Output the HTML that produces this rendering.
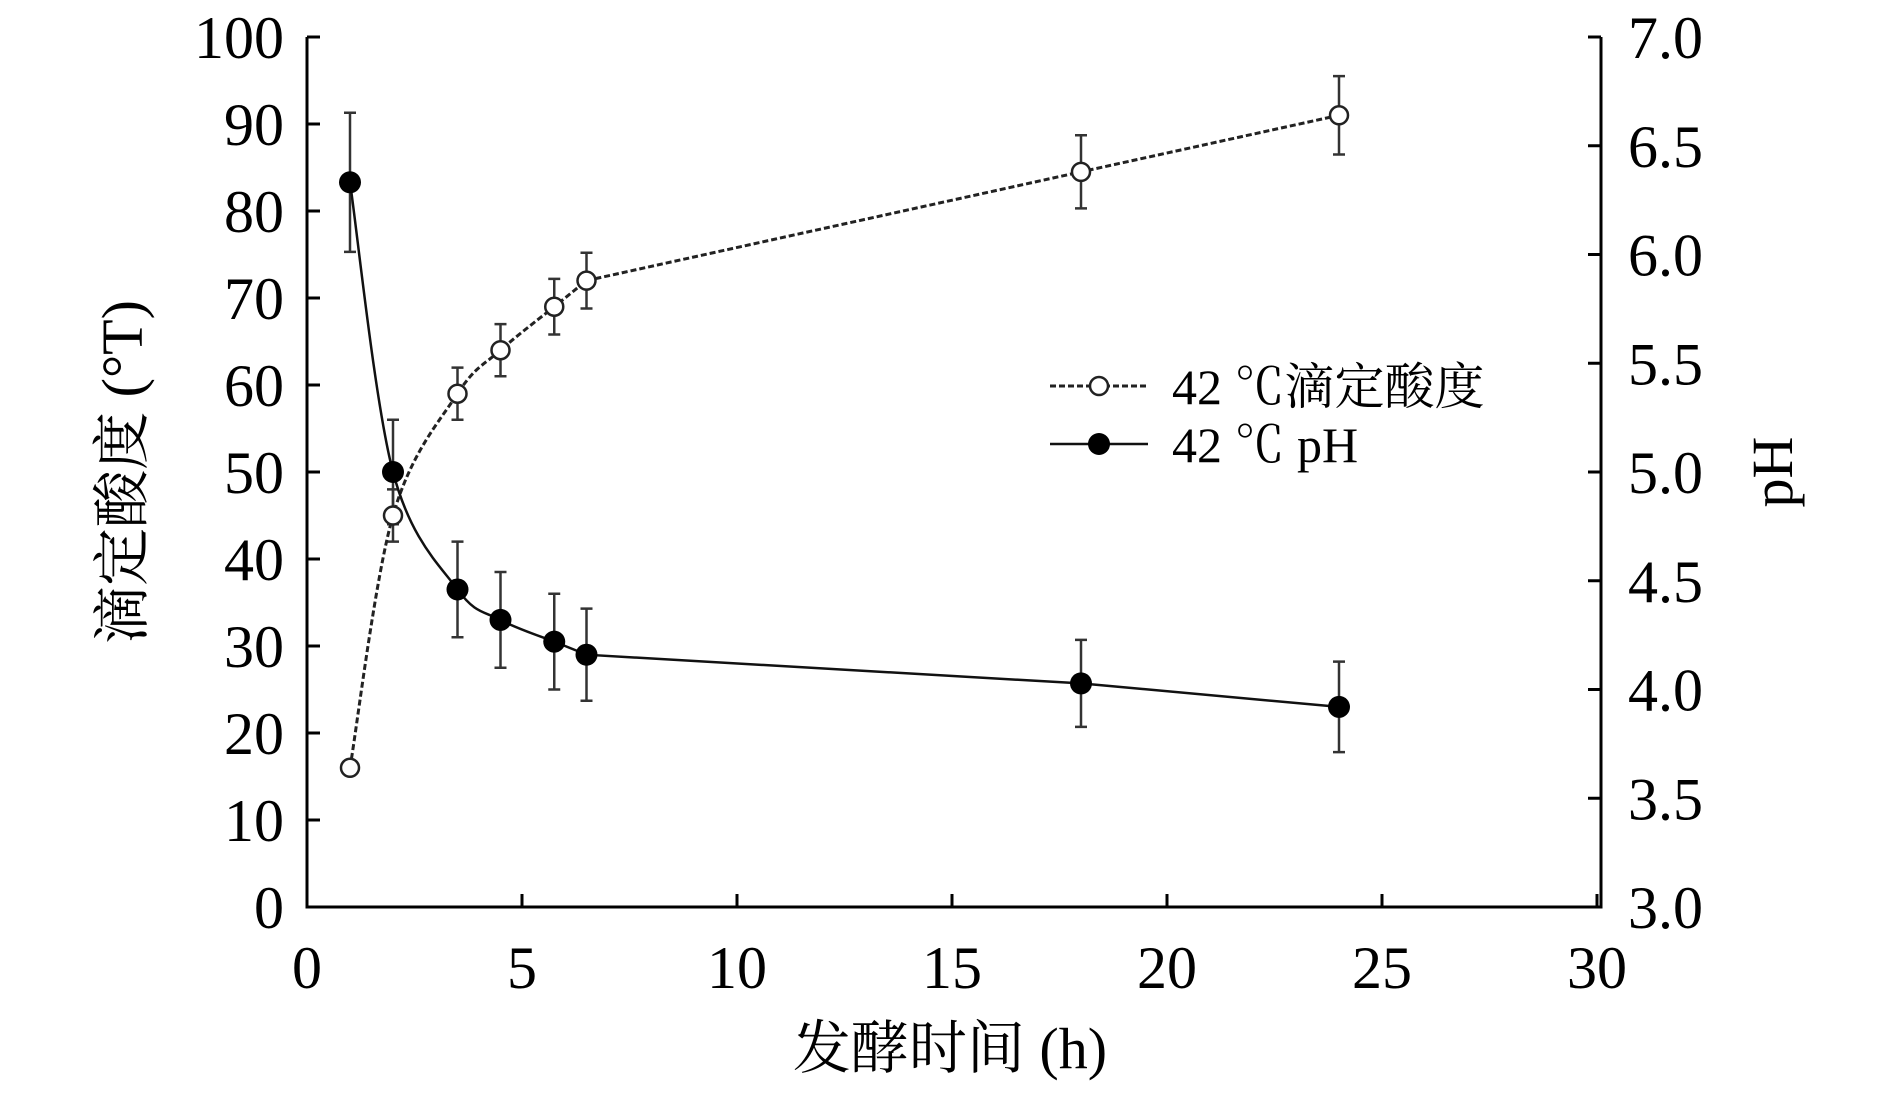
<!DOCTYPE html>
<html><head><meta charset="utf-8"><style>
body{margin:0;background:#fff}
svg{display:block}
text{font-family:"Liberation Serif","Times New Roman","Noto Serif CJK SC",serif;fill:#000}
</style></head><body>
<svg id="s" width="1890" height="1093" xmlns="http://www.w3.org/2000/svg" font-family="'Liberation Serif','Noto Serif CJK SC',serif"></svg>
<script>
const s=document.getElementById('s');
const X=v=>307+v*43.0, Y=v=>907-v*8.7;
let h='';
h+=`<path d="M307,37 V907 H1601 V37" fill="none" stroke="#000" stroke-width="3"/>`;
for(let i=0;i<=10;i++){let y=Y(i*10);h+=`<line x1="307" x2="320" y1="${y}" y2="${y}" stroke="#000" stroke-width="3"/><text x="284" y="${y+21}" font-size="60" text-anchor="end">${i*10}</text>`;}
for(let i=0;i<=8;i++){let y=Y(i*12.5);h+=`<line x1="1588" x2="1601" y1="${y}" y2="${y}" stroke="#000" stroke-width="3"/><text x="1628" y="${y+21}" font-size="60">${(3+i*0.5).toFixed(1)}</text>`;}
for(let i=0;i<=6;i++){let x=X(i*5);h+=`<line x1="${x}" x2="${x}" y1="894" y2="907" stroke="#000" stroke-width="3"/><text x="${x}" y="988" font-size="60" text-anchor="middle">${i*5}</text>`;}
h+=`<text x="950" y="1068" font-size="58" text-anchor="middle">发酵时间 (h)</text>`;
h+=`<text transform="translate(142,472) rotate(-90)" font-size="58" text-anchor="middle">滴定酸度 (°T)</text>`;
h+=`<text transform="translate(1792,472) rotate(-90)" font-size="58" text-anchor="middle">pH</text>`;
const ta=[[1,16,0],[2,45,3],[3.5,59,3],[4.5,64,3],[5.75,69,3.2],[6.5,72,3.2],[18,84.5,4.2],[24,91,4.5]];
const ph=[[1,83.3,8],[2,50,6],[3.5,36.5,5.5],[4.5,33,5.5],[5.75,30.5,5.5],[6.5,29,5.3],[18,25.7,5],[24,23,5.2]];
function eb(d){let o='';d.forEach(p=>{if(!p[2])return;let x=X(p[0]),a=Y(p[1]+p[2]),b=Y(p[1]-p[2]);o+=`<path d="M${x},${a}V${b}M${x-6},${a}H${x+6}M${x-6},${b}H${x+6}" stroke="#333" stroke-width="2.5" fill="none"/>`;});return o;}
function cr(d){let P=d.map(p=>[X(p[0]),Y(p[1])]);let o=`M${P[0][0]},${P[0][1]}`;for(let i=0;i<P.length-1;i++){let p0=P[i-1]||P[i],p1=P[i],p2=P[i+1],p3=P[i+2]||p2;if(i>=4){o+=`L${p2[0]},${p2[1]}`;continue;}let t=1/6;if(i==3)p3=p2;o+=`C${p1[0]+(p2[0]-p0[0])*t},${p1[1]+(p2[1]-p0[1])*t} ${p2[0]-(p3[0]-p1[0])*t},${p2[1]-(p3[1]-p1[1])*t} ${p2[0]},${p2[1]}`;}return o;}
h+=eb(ta)+eb(ph);
h+=`<path d="${cr(ta)}" fill="none" stroke="#222" stroke-width="3" stroke-dasharray="6,3"/>`;
h+=`<path d="${cr(ph)}" fill="none" stroke="#111" stroke-width="2.5"/>`;
ta.forEach(p=>h+=`<circle cx="${X(p[0])}" cy="${Y(p[1])}" r="9" fill="#fff" stroke="#222" stroke-width="2.5"/>`);
ph.forEach(p=>h+=`<circle cx="${X(p[0])}" cy="${Y(p[1])}" r="11" fill="#000"/>`);
h+=`<line x1="1050" x2="1148" y1="386" y2="386" stroke="#222" stroke-width="3" stroke-dasharray="6,3"/><circle cx="1099" cy="386" r="9" fill="#fff" stroke="#222" stroke-width="2.5"/>`;
h+=`<text x="1172" y="404" font-size="50">42 ℃滴定酸度</text>`;
h+=`<line x1="1050" x2="1148" y1="444" y2="444" stroke="#111" stroke-width="2.5"/><circle cx="1099" cy="444" r="11" fill="#000"/>`;
h+=`<text x="1172" y="462" font-size="50">42 ℃ pH</text>`;
s.innerHTML=h;
</script>
</body></html>
